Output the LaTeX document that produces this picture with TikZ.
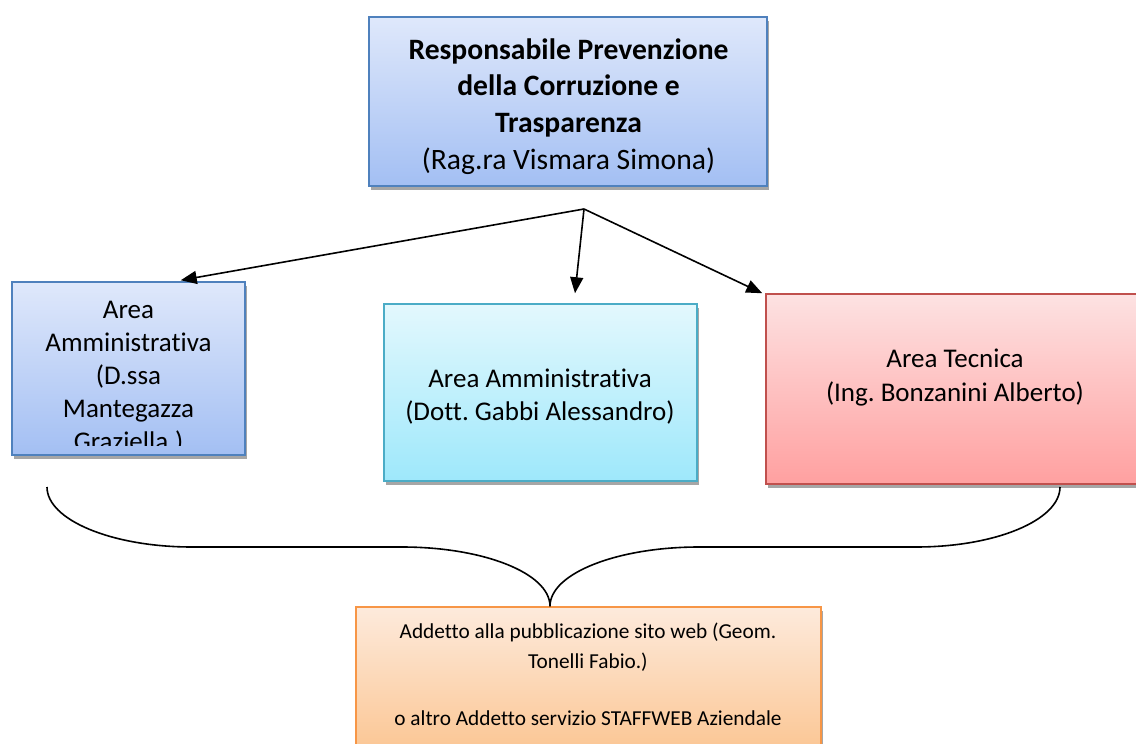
\documentclass[tikz,border=0pt]{standalone}
\usepackage{fontspec}
\setmainfont{Carlito}[Ligatures={NoCommon}]
\usetikzlibrary{arrows.meta,shadows,calc}
\definecolor{bluetop}{HTML}{DFE8FB}
\definecolor{bluebot}{HTML}{A3BFF3}
\definecolor{blueline}{HTML}{4F81BD}
\definecolor{cyantop}{HTML}{E3F8FD}
\definecolor{cyanbot}{HTML}{9EE8FB}
\definecolor{cyanline}{HTML}{4BACC6}
\definecolor{redtop}{HTML}{FDE2E2}
\definecolor{redbot}{HTML}{FFA0A0}
\definecolor{redline}{HTML}{C0504D}
\definecolor{orangetop}{HTML}{FDEADC}
\definecolor{orangebot}{HTML}{FBC48F}
\definecolor{orangeline}{HTML}{F79646}
\definecolor{shadowgray}{HTML}{A6A6A6}
\begin{document}
\frenchspacing
\begin{tikzpicture}[x=1pt,y=-1pt,
  box/.style={draw, line width=1.5pt, inner sep=0pt,
    drop shadow={shadow xshift=2pt,shadow yshift=-4pt,fill=shadowgray,opacity=1}},
  bluebox/.style={box, top color=bluetop, bottom color=bluebot, draw=blueline},
  cyanbox/.style={box, top color=cyantop, bottom color=cyanbot, draw=cyanline},
  redbox/.style={box, top color=redtop, bottom color=redbot, draw=redline},
  orangebox/.style={box, top color=orangetop, bottom color=orangebot, draw=orangeline},
  txt/.style={inner sep=0pt, align=center, anchor=north},
  arr/.style={line width=1.6pt, -{Triangle[length=16pt,width=13pt]}},
  brace/.style={line width=1.6pt}
]
\useasboundingbox (0,0) rectangle (1136,744);
\clip (0,0) rectangle (1136,744);

% boxes
\node[bluebox, minimum width=398pt, minimum height=169pt] (top) at (568,101.5) {};
\node[txt, font={\fontsize{29.6}{36.7}\selectfont\bfseries}] (topT) at (568.5,38.3)
  {Responsabile Prevenzione\\della Corruzione e\\Trasparenza\\\mdseries(Rag.ra Vismara Simona)};

\node[bluebox, minimum width=233pt, minimum height=173pt] (left) at (128.5,368.5) {};
\begin{scope}
  \clip (12,282) rectangle (245,445);
  \node[txt, font={\fontsize{27}{33}\selectfont}] (leftT) at (128.5,300.5)
    {Area\\Amministrativa\\(D.ssa\\Mantegazza\\Graziella.)};
\end{scope}

\node[cyanbox, minimum width=313pt, minimum height=177pt] (mid) at (540.5,392.5) {};
\node[txt, font={\fontsize{27}{33.5}\selectfont}] (midT) at (540,368.5)
  {Area Amministrativa\\(Dott. Gabbi Alessandro)};

\node[redbox, minimum width=380pt, minimum height=190pt] (right) at (956,389) {};
\node[txt, font={\fontsize{27}{34}\selectfont}] (rightT) at (955,348.5)
  {Area Tecnica\\(Ing. Bonzanini Alberto)};

\node[orangebox, minimum width=465pt, minimum height=153pt] (bot) at (588.5,683.5) {};
\node[txt, font={\fontsize{21.3}{30}\selectfont}] (botT) at (588,622.5)
  {Addetto alla pubblicazione sito web (Geom.\\Tonelli Fabio.)\\[27pt]o altro Addetto servizio STAFFWEB Aziendale};

% arrows
\coordinate (org) at (584,209);
\draw[arr] (org) -- ([xshift=-65pt,yshift=1pt]left.north east);
\draw[arr] (org) -- ([xshift=34.5pt,yshift=10pt]mid.north);
\draw[arr] (org) -- ([xshift=-3pt]right.north west);

% brace
\coordinate (bl) at (47,487);
\coordinate (br) at (1060,487);
\draw[brace] (bl) .. controls (47,520) and (112,547) .. (192,547) -- (402,547)
  .. controls (483,547) and (550,573) .. ([xshift=-38.5pt]bot.north);
\draw[brace] (br) .. controls (1060,520) and (996,547) .. (916,547) -- (699,547)
  .. controls (618,547) and (550,573) .. ([xshift=-38.5pt]bot.north);
\end{tikzpicture}
\end{document}
